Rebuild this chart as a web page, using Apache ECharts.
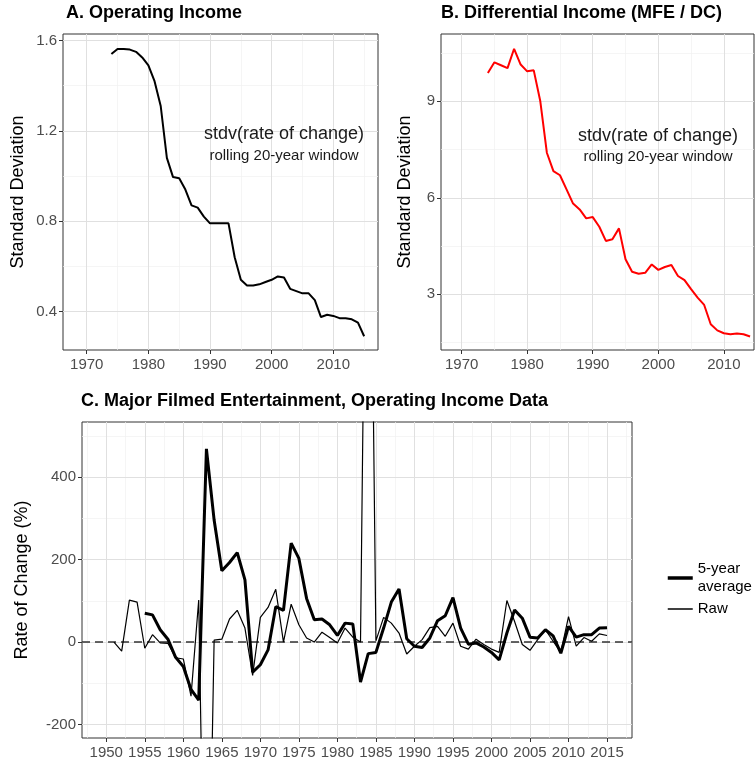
<!DOCTYPE html>
<html>
<head>
<meta charset="utf-8">
<script src="https://cdn.jsdelivr.net/npm/echarts@6/dist/echarts.min.js"></script>
<style>
html, body { margin: 0; padding: 0; background: #fff; }
#main { width: 755px; height: 765px; }
</style>
</head>
<body>
<div id="main"></div>
<script>
// panel A: rolling stdv of operating income rate of change
var yearsA = [1974,1975,1976,1977,1978,1979,1980,1981,1982,1983,1984,1985,1986,1987,1988,1989,1990,1991,1992,1993,1994,1995,1996,1997,1998,1999,2000,2001,2002,2003,2004,2005,2006,2007,2008,2009,2010,2011,2012,2013,2014,2015];
var stdvOpIncome = [1.54,1.563,1.563,1.56,1.55,1.525,1.49,1.42,1.31,1.08,0.995,0.99,0.94,0.87,0.86,0.82,0.79,0.79,0.79,0.79,0.64,0.54,0.515,0.515,0.52,0.53,0.54,0.555,0.55,0.50,0.49,0.48,0.48,0.45,0.375,0.385,0.38,0.37,0.37,0.365,0.35,0.29];

// panel B: rolling stdv of differential income
var yearsB = [1974,1975,1976,1977,1978,1979,1980,1981,1982,1983,1984,1985,1986,1987,1988,1989,1990,1991,1992,1993,1994,1995,1996,1997,1998,1999,2000,2001,2002,2003,2004,2005,2006,2007,2008,2009,2010,2011,2012,2013,2014];
var stdvDiffIncome = [9.88,10.21,10.12,10.03,10.63,10.14,9.93,9.96,9.0,7.4,6.83,6.7,6.26,5.82,5.64,5.36,5.4,5.1,4.66,4.71,5.05,4.09,3.70,3.64,3.67,3.93,3.76,3.85,3.91,3.57,3.44,3.16,2.90,2.67,2.07,1.88,1.79,1.76,1.78,1.76,1.69];

// panel C: rate of change (%)
var yearsRaw = [1951,1952,1953,1954,1955,1956,1957,1958,1959,1960,1961,1962,1963,1964,1965,1966,1967,1968,1969,1970,1971,1972,1973,1974,1975,1976,1977,1978,1979,1980,1981,1982,1983,1984,1985,1986,1987,1988,1989,1990,1991,1992,1993,1994,1995,1996,1997,1998,1999,2000,2001,2002,2003,2004,2005,2006,2007,2008,2009,2010,2011,2012,2013,2014,2015];
var rawChange = [0,-22,102,97,-15,18,-2,-3,-38,-41,-131,102,-1000,5,7,56,77,34,-81,60,84,128,0,92,42,10,0,24,11,-2,34,12,0,1700,3,60,46,22,-29,-10,6,35,38,14,46,-10,-17,7,-6,-17,-25,101,50,-6,-20,6,30,2,-25,62,-10,11,2,20,16];
var yearsAvg = [1955,1956,1957,1958,1959,1960,1961,1962,1963,1964,1965,1966,1967,1968,1969,1970,1971,1972,1973,1974,1975,1976,1977,1978,1979,1980,1981,1982,1983,1984,1985,1986,1987,1988,1989,1990,1991,1992,1993,1994,1995,1996,1997,1998,1999,2000,2001,2002,2003,2004,2005,2006,2007,2008,2009,2010,2011,2012,2013,2014,2015];
var avgChange = [70,66,30,7,-37,-59,-115,-141,469,296,173,193,217,151,-73,-55,-19,86,77,240,203,106,54,56,42,16,46,44,-97,-28,-25,34,97,129,8,-10,-13,10,52,64,108,34,-5,-2,-12,-25,-43,22,78,58,12,10,30,15,-27,38,12,18,18,34,35];

// tick labels and grid lines
var ticksAx = [1970,1980,1990,2000,2010];
var minorAx = [1975,1985,1995,2005,2015];
var ticksAy = [0.4,0.8,1.2,1.6];
var minorAy = [0.6,1.0,1.4];
var ticksBx = [1970,1980,1990,2000,2010];
var minorBx = [1975,1985,1995,2005];
var ticksBy = [3,6,9];
var minorBy = [1.5,4.5,7.5,10.5];
var ticksCx = [1950,1955,1960,1965,1970,1975,1980,1985,1990,1995,2000,2005,2010,2015];
var minorCx = [1947.5,1952.5,1957.5,1962.5,1967.5,1972.5,1977.5,1982.5,1987.5,1992.5,1997.5,2002.5,2007.5,2012.5,2017.5];
var ticksCy = [-200,0,200,400];
var minorCy = [-100,100,300,500];

var FONT = "'Liberation Sans', Arial, sans-serif";

function pairs(xs, ys) {
    return xs.map(function (x, i) { return [x, ys[i]]; });
}

function gridLines(xMaj, xMin, yMaj, yMin) {
    var out = [];
    xMin.forEach(function (v) { out.push({xAxis: v, lineStyle: {color: '#f0f0f0', width: 0.7, type: 'solid'}}); });
    yMin.forEach(function (v) { out.push({yAxis: v, lineStyle: {color: '#f0f0f0', width: 0.7, type: 'solid'}}); });
    xMaj.forEach(function (v) { out.push({xAxis: v, lineStyle: {color: '#e0e0e0', width: 1, type: 'solid'}}); });
    yMaj.forEach(function (v) { out.push({yAxis: v, lineStyle: {color: '#e0e0e0', width: 1, type: 'solid'}}); });
    return out;
}

function bgSeries(idx, lines) {
    return {
        type: 'line', xAxisIndex: idx, yAxisIndex: idx, data: [], silent: true, z: 1,
        markLine: {
            silent: true, z: 1, symbol: ['none', 'none'], animation: false,
            label: {show: false}, emphasis: {disabled: true},
            data: lines
        }
    };
}

function xAx(idx, min, max, ticks) {
    return {
        type: 'value', gridIndex: idx, min: min, max: max,
        splitLine: {show: false},
        axisLine: {show: false, onZero: false},
        axisTick: {show: true, length: 4, customValues: ticks, lineStyle: {color: '#333'}},
        axisLabel: {customValues: ticks, color: '#4d4d4d', fontSize: 15, margin: 7, fontFamily: FONT,
            formatter: function (v) { return String(v); }}
    };
}

function yAx(idx, min, max, ticks, name, gap, dec) {
    return {
        type: 'value', gridIndex: idx, min: min, max: max,
        name: name, nameLocation: 'middle', nameGap: gap,
        nameTextStyle: {fontSize: 18, color: '#000', fontFamily: FONT},
        splitLine: {show: false},
        axisLine: {show: false, onZero: false},
        axisTick: {show: true, length: 4, customValues: ticks, lineStyle: {color: '#333'}},
        axisLabel: {customValues: ticks, color: '#4d4d4d', fontSize: 15, margin: 6, fontFamily: FONT,
            formatter: function (v) { return v.toFixed(dec); }}
    };
}

function note(x, y, txt, size) {
    return {type: 'text', x: x, y: y, z: 100, silent: true,
        style: {text: txt, fontSize: size, fontFamily: FONT, fill: '#1a1a1a', align: 'center', verticalAlign: 'middle'}};
}

var chart = echarts.init(document.getElementById('main'));

var option = {
    animation: false,
    backgroundColor: '#fff',
    textStyle: {fontFamily: FONT},
    title: [
        {text: 'A. Operating Income', left: 66, top: 4, padding: 0,
            textStyle: {fontSize: 18, fontWeight: 'bold', color: '#000', fontFamily: FONT}},
        {text: 'B. Differential Income (MFE / DC)', left: 441, top: 4, padding: 0,
            textStyle: {fontSize: 18, fontWeight: 'bold', color: '#000', fontFamily: FONT}},
        {text: 'C. Major Filmed Entertainment, Operating Income Data', left: 81, top: 392, padding: 0,
            textStyle: {fontSize: 18, fontWeight: 'bold', color: '#000', fontFamily: FONT}}
    ],
    grid: [
        {left: 63, top: 34, width: 315, height: 316, show: true, borderColor: '#333', borderWidth: 1},
        {left: 441, top: 34, width: 313, height: 316, show: true, borderColor: '#333', borderWidth: 1},
        {left: 82, top: 422, width: 550, height: 316, show: true, borderColor: '#333', borderWidth: 1}
    ],
    xAxis: [
        xAx(0, 1966.15, 2017.25, ticksAx),
        xAx(1, 1966.85, 2014.6, ticksBx),
        xAx(2, 1946.85, 2018.24, ticksCx)
    ],
    yAxis: [
        yAx(0, 0.229, 1.629, ticksAy, 'Standard Deviation', 36, 1),
        yAx(1, 1.27, 11.09, ticksBy, 'Standard Deviation', 27, 0),
        yAx(2, -232.7, 534, ticksCy, 'Rate of Change (%)', 51, 0)
    ],
    legend: {
        data: [
            {name: '5-year average', lineStyle: {width: 3.5}},
            {name: 'Raw', lineStyle: {width: 1.5}}
        ],
        orient: 'vertical', left: 666, top: 560, padding: 0,
        itemWidth: 25, itemHeight: 14, itemGap: 4, selectedMode: false,
        itemStyle: {opacity: 0},
        textStyle: {fontSize: 15, color: '#000', lineHeight: 18, fontFamily: FONT},
        formatter: function (n) { return n === '5-year average' ? '5-year\naverage' : n; }
    },
    graphic: [
        note(284, 134, 'stdv(rate of change)', 18),
        note(284, 156, 'rolling 20-year window', 15),
        note(658, 136, 'stdv(rate of change)', 18),
        note(658, 157, 'rolling 20-year window', 15)
    ],
    series: [
        bgSeries(0, gridLines(ticksAx, minorAx, ticksAy, minorAy)),
        bgSeries(1, gridLines(ticksBx, minorBx, ticksBy, minorBy)),
        bgSeries(2, gridLines(ticksCx, minorCx, ticksCy, minorCy).concat([
            {yAxis: 0, lineStyle: {color: '#333', width: 1.6, type: [8, 5]}}
        ])),
        {
            name: 'stdv A', type: 'line', xAxisIndex: 0, yAxisIndex: 0, z: 3,
            data: pairs(yearsA, stdvOpIncome), symbol: 'none', showSymbol: false,
            lineStyle: {color: '#000', width: 2}
        },
        {
            name: 'stdv B', type: 'line', xAxisIndex: 1, yAxisIndex: 1, z: 3,
            data: pairs(yearsB, stdvDiffIncome), symbol: 'none', showSymbol: false,
            lineStyle: {color: '#ff0000', width: 2}
        },
        {
            name: 'Raw', type: 'line', xAxisIndex: 2, yAxisIndex: 2, z: 3,
            data: pairs(yearsRaw, rawChange), symbol: 'none', showSymbol: false,
            itemStyle: {color: '#000'},
            lineStyle: {color: '#000', width: 1.2}
        },
        {
            name: '5-year average', type: 'line', xAxisIndex: 2, yAxisIndex: 2, z: 4,
            data: pairs(yearsAvg, avgChange), symbol: 'none', showSymbol: false,
            itemStyle: {color: '#000'},
            lineStyle: {color: '#000', width: 3}
        }
    ]
};

chart.setOption(option);
</script>
</body>
</html>
